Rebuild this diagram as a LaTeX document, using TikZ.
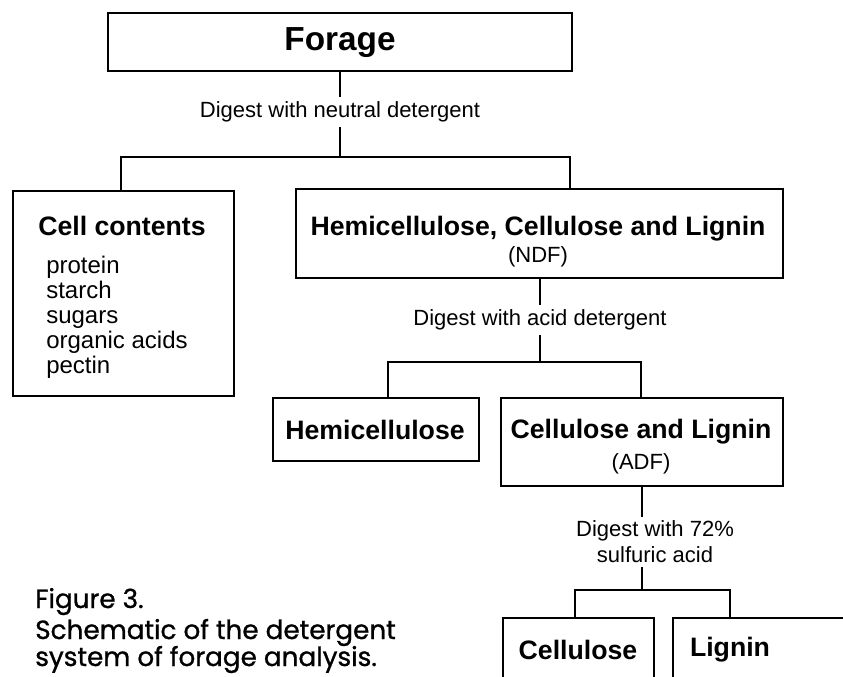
\documentclass[tikz,border=0pt]{standalone}
\usepackage{fontspec}
\setmainfont{Liberation Sans}
\newfontfamily\capfont[FakeBold=1]{Poppins}
\begin{document}
\begin{tikzpicture}[x=0.75pt,y=-0.75pt,
  box/.style={draw, line width=1.8pt, inner sep=0pt, anchor=north west},
  conn/.style={line width=1.8pt},
  big/.style={inner sep=0pt, font=\fontsize{25}{28}\selectfont\bfseries},
  ttl/.style={inner sep=0pt, font=\fontsize{20}{23}\selectfont\bfseries},
  lbl/.style={inner sep=3pt, font=\fontsize{16.5}{18.75}\selectfont, align=center},
  capt/.style={inner sep=0pt, anchor=base west, font=\capfont\fontsize{19.7}{24}\selectfont}]
\useasboundingbox (0,0) rectangle (843,677);
% boxes
\node[box, minimum width=348pt, minimum height=43.5pt] (forage) at (107,12) {};
\node[box, minimum width=165.75pt, minimum height=153.75pt] (cell) at (12,190) {};
\node[box, minimum width=365.25pt, minimum height=66.75pt] (ndf) at (295,188) {};
\node[box, minimum width=154.5pt, minimum height=47.25pt] (hemi) at (272,397) {};
\node[box, minimum width=211.5pt, minimum height=66pt] (adf) at (500,397) {};
\node[box, minimum width=113.25pt, minimum height=77.25pt] (cellu) at (502,617) {};
\node[box, minimum width=171pt, minimum height=77.25pt] (lign) at (672,617) {};
% box texts
\node[big] (tforage) at (340,43) {Forage};
\node[ttl] (tcell) at (122,226) {Cell contents};
\node[inner sep=0pt, anchor=north west, align=left, font=\fontsize{18}{18.75}\selectfont] (tlist) at (46,256) {protein\\starch\\sugars\\organic acids\\pectin};
\node[ttl] (tndf) at (538,229) {Hemicellulose, Cellulose and Lignin};
\node[lbl, inner sep=0pt] (sndf) at (538,257) {(NDF)};
\node[ttl] (themi) at (375,430) {Hemicellulose};
\node[ttl] (tadf) at (641,432) {Cellulose and Lignin};
\node[lbl, inner sep=0pt] (sadf) at (641,464) {(ADF)};
\node[ttl] (tcellu) at (578,650) {Cellulose};
\node[ttl] (tlign) at (730,650) {Lignin};
% digest labels
\node[lbl] (dig1) at (340,112) {Digest with neutral detergent};
\node[lbl] (dig2) at (540,320) {Digest with acid detergent};
\node[lbl, font=\fontsize{16.5}{19.5}\selectfont] (dig3) at (655,542) {Digest with 72\%\\sulfuric acid};
% junctions
\coordinate (j1) at (340,157);
\coordinate (j1l) at (121,157);
\coordinate (j1r) at (570,157);
\coordinate (j2) at (540,362);
\coordinate (j2l) at (388,362);
\coordinate (j2r) at (641,362);
\coordinate (j3) at (642,590);
\coordinate (j3l) at (575,590);
\coordinate (j3r) at (730,590);
% connectors
\draw[conn] (forage.south -| j1) -- (dig1.north -| j1);
\draw[conn] (dig1.south -| j1) -- (j1);
\draw[conn] (cell.north -| j1l) -- (j1l) -- (j1r) -- (ndf.north -| j1r);
\draw[conn] (ndf.south -| j2) -- (dig2.north -| j2);
\draw[conn] (dig2.south -| j2) -- (j2);
\draw[conn] (hemi.north -| j2l) -- (j2l) -- (j2r) -- (adf.north -| j2r);
\draw[conn] (adf.south -| j3) -- (dig3.north -| j3);
\draw[conn] (dig3.south -| j3) -- (j3);
\draw[conn] (cellu.north -| j3l) -- (j3l) -- (j3r) -- (lign.north -| j3r);
% caption
\node[capt] (cap1) at (35,608) {Figure 3.};
\node[capt] (cap2) at (35,639) {Schematic of the detergent};
\node[capt] (cap3) at (35,666) {system of forage analysis.};
\end{tikzpicture}
\end{document}
